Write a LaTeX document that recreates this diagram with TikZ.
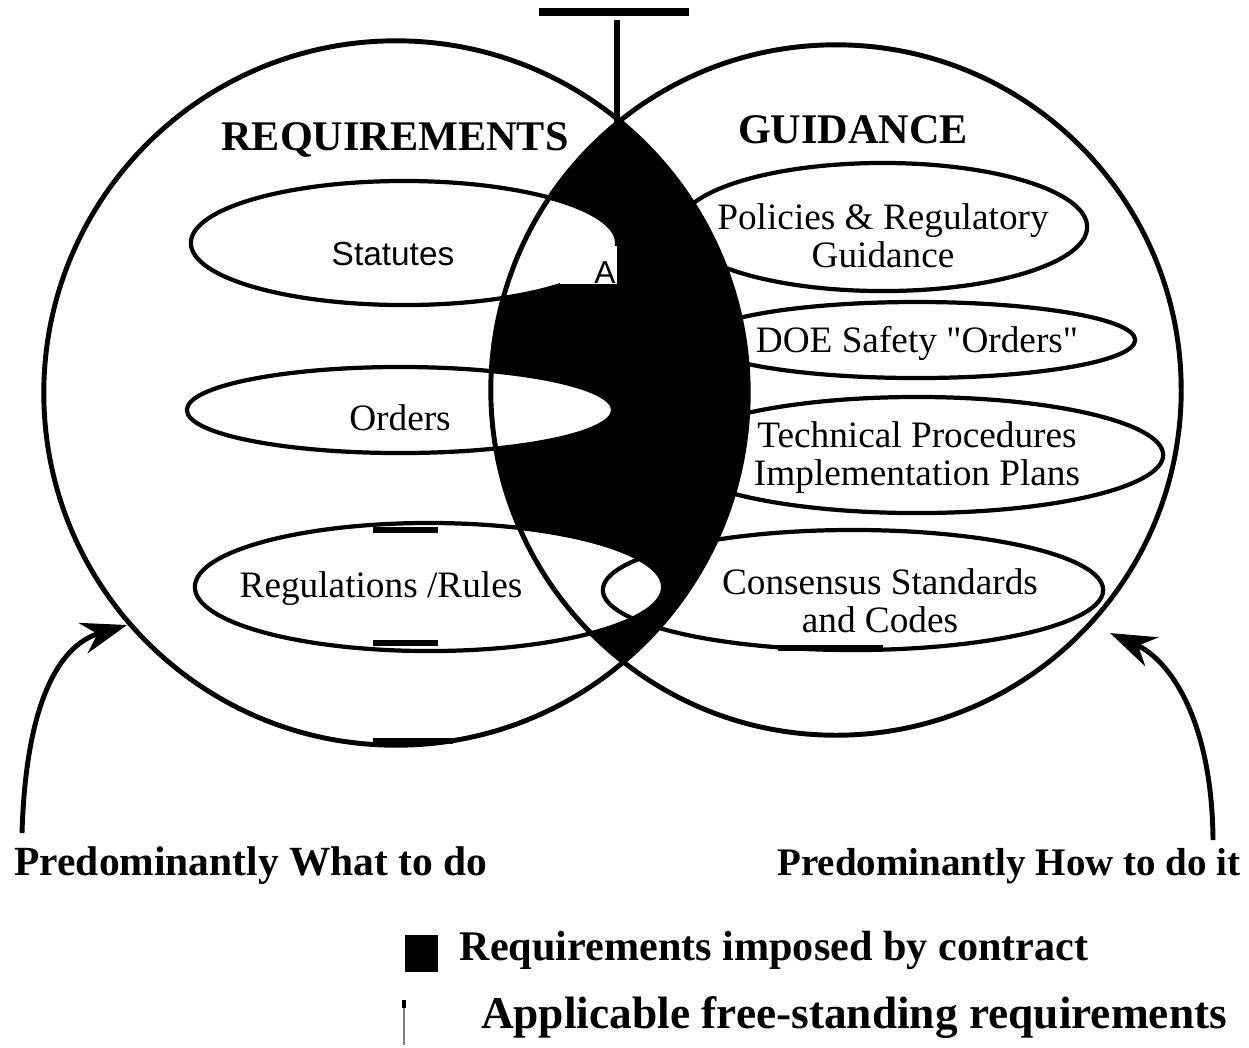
\documentclass[tikz,border=0pt]{standalone}
\usepackage{fontspec}
\setmainfont{Liberation Serif}[Ligatures=TeXOff]
\newfontfamily\statfont{Liberation Sans}
\usetikzlibrary{arrows.meta}

\begin{document}
\begin{tikzpicture}[x=0.01cm, y=-0.01cm,
    circ/.style={line width=1.4pt},
    oval/.style={line width=1.2pt},
    bar/.style={line width=1.7pt},
    title/.style={font=\fontsize{12}{14}\selectfont\bfseries, anchor=base},
    lbl/.style={font=\fontsize{10.6}{10.8}\selectfont, align=center},
    foot/.style={font=\fontsize{12}{14}\selectfont\bfseries},
    curved/.style={line width=1.4pt, -{Stealth[length=13pt, width=9pt]}}]
    \useasboundingbox (0,0) rectangle (1249,1047);

    \coordinate (lc) at (396,393); % requirements
    \coordinate (rc) at (836,390); % guidance

    % imposed by contract
    \begin{scope}
        \clip (lc) circle (3.52cm);
        \fill[black] (rc) circle (3.45cm);
    \end{scope}
    \fill[white] (404,243) ellipse (2.13cm and 0.62cm);
    \fill[white] (400,410) ellipse (2.13cm and 0.43cm);
    \fill[white] (429,587) ellipse (2.34cm and 0.64cm);

    \draw[circ] (lc) circle (3.52cm);
    \draw[circ] (rc) circle (3.45cm);

    \draw[oval] (404,243) ellipse (2.13cm and 0.62cm); % statutes
    \draw[oval] (400,410) ellipse (2.13cm and 0.43cm); % orders
    \draw[oval] (429,587) ellipse (2.34cm and 0.64cm); % regulations
    \draw[oval] (883,227) ellipse (2.04cm and 0.64cm); % policies
    \draw[oval] (917,340) ellipse (2.18cm and 0.38cm); % DOE
    \draw[oval] (917,455) ellipse (2.46cm and 0.58cm); % technical
    \draw[oval] (853,590) ellipse (2.50cm and 0.60cm); % consensus
    \fill[white] (560,246) rectangle (617,284);

    \draw[bar] (373,530) -- (438,530);
    \draw[bar] (373,643) -- (438,643);
    \draw[bar] (373,741) -- (453,741);
    \draw[bar] (778,648) -- (883,648);

    \node[title] (req) at (395,150) {REQUIREMENTS};
    \node[title] (gui) at (853,143) {GUIDANCE};

    \node[font=\statfont\fontsize{9.5}{10}\selectfont, anchor=base] (stat) at (393,265) {Statutes};
    \node[font=\statfont\fontsize{9}{10}\selectfont, anchor=base] (a) at (605,283) {A};
    \node[lbl, anchor=base] (ord) at (400,430) {Orders};
    \node[lbl, anchor=base] (reg) at (381,597) {Regulations /Rules};
    \node[lbl] (pol) at (883,236) {Policies \& Regulatory\\Guidance};
    \node[lbl, anchor=base] (doe) at (917,352) {DOE Safety "Orders"};
    \node[lbl] (tech) at (917,458) {Technical Procedures\\Implementation Plans};
    \node[lbl] (cons) at (880,601) {Consensus Standards\\and Codes};

    % label line at the top
    \coordinate (topbar) at (617,12);
    \coordinate (cusp) at (617,126);
    \draw[line width=2pt] (539,12) -- (689,12);
    \draw[bar] (topbar) ++(0,8) -- (cusp);

    \node[foot, font=\fontsize{11.8}{14}\selectfont\bfseries] (what) at (251,866) {Predominantly What to do};
    \node[foot, font=\fontsize{11.1}{14}\selectfont\bfseries] (how) at (1009,866) {Predominantly How to do it};
    \coordinate (wtip) at (127,625);
    \coordinate (htip) at (1110,633);
    \draw[curved] (22,833) .. controls (26,700) and (60,645) .. (wtip);
    \draw[curved] (1213,840) .. controls (1212,720) and (1170,660) .. (htip);

    % legend
    \fill[black] (405,935) rectangle (438,972);
    \node[foot] (imp) at (774,950) {Requirements imposed by contract};
    \draw[black!50, line width=0.5pt] (404,1002) -- (404,1045);
    \draw[line width=1pt] (404,1000) -- (404,1008);
    \node[foot, font=\fontsize{12.9}{14}\selectfont\bfseries] (free) at (854,1018) {Applicable free-standing requirements};
\end{tikzpicture}
\end{document}
